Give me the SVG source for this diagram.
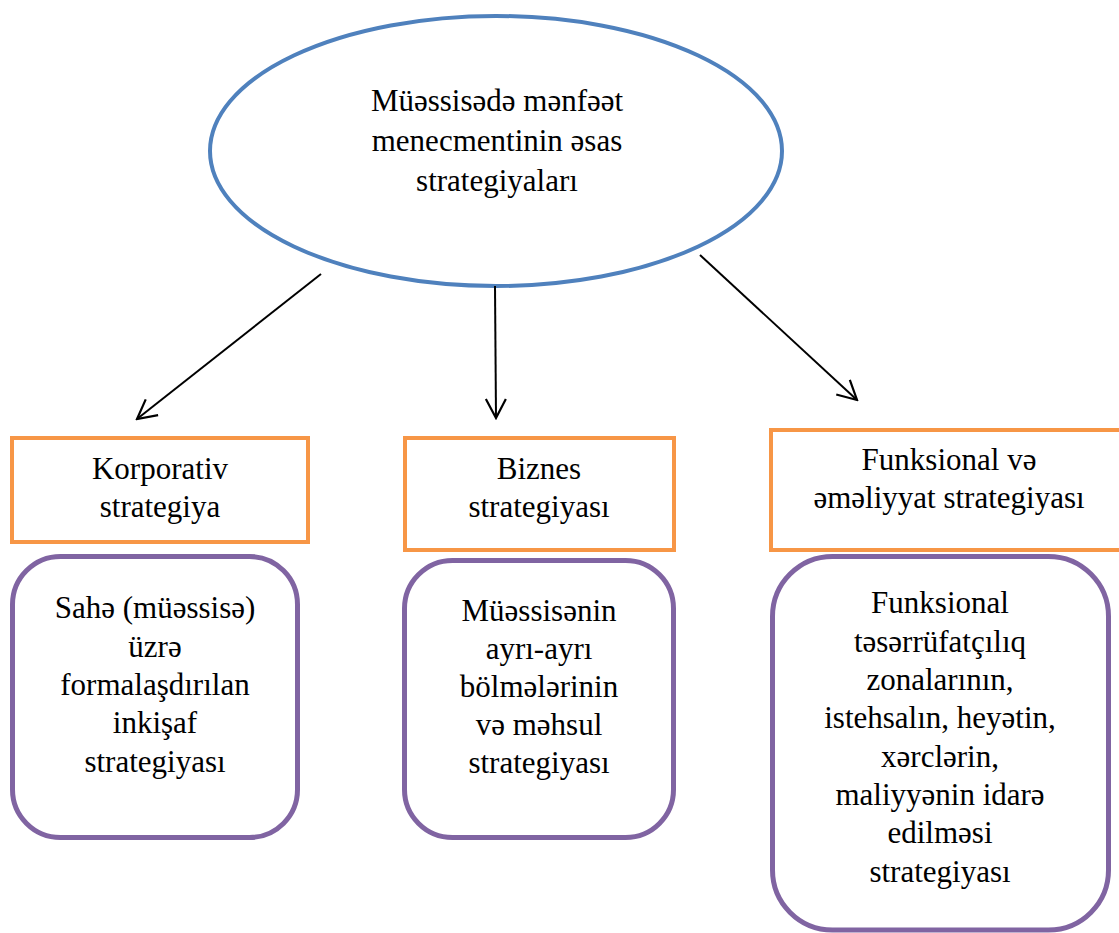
<svg xmlns="http://www.w3.org/2000/svg" width="1119" height="933" viewBox="0 0 1119 933">
<style>
.t{font-family:"Liberation Serif","Times New Roman",serif;font-size:31px;fill:#000;text-anchor:middle}
.ell{fill:#fff;stroke:#4F81BD;stroke-width:4}
.ob{fill:#fff;stroke:#F79646;stroke-width:4}
.pb{fill:#fff;stroke:#8064A2;stroke-width:5}
.c{stroke:#000;stroke-width:2;fill:none;marker-end:url(#ah)}
</style>
<defs>
<marker id="ah" markerUnits="userSpaceOnUse" viewBox="-22 -12 24 24" refX="0" refY="0" markerWidth="24" markerHeight="24" orient="auto">
<path d="M-19,-10 L0,0 L-19,10" fill="none" stroke="#000" stroke-width="2.2"/>
</marker>
</defs>
<rect width="1119" height="933" fill="#fff"/>
<g id="root">
<ellipse class="ell" cx="496" cy="151" rx="286" ry="135"/>
<text class="t" x="497" y="111">Müəssisədə mənfəət</text>
<text class="t" x="497" y="151">menecmentinin əsas</text>
<text class="t" x="497" y="191">strategiyaları</text>
</g>
<g id="connectors">
<line class="c" x1="321" y1="274" x2="137" y2="419"/>
<line class="c" x1="495" y1="286" x2="496" y2="418"/>
<line class="c" x1="700" y1="255" x2="857" y2="400"/>
</g>
<g id="korporativ">
<rect class="ob" x="12" y="438" width="296" height="104"/>
<text class="t" x="160" y="479">Korporativ</text>
<text class="t" x="160" y="517">strategiya</text>
</g>
<g id="biznes">
<rect class="ob" x="405" y="438" width="269" height="112"/>
<text class="t" x="539" y="479">Biznes</text>
<text class="t" x="539" y="517">strategiyası</text>
</g>
<g id="funksional">
<rect class="ob" x="771" y="430" width="352" height="120"/>
<text class="t" x="949" y="470">Funksional və</text>
<text class="t" x="949" y="508">əməliyyat strategiyası</text>
</g>
<g id="sahe">
<rect class="pb" x="12.5" y="556.5" width="285" height="281" rx="48"/>
<text class="t" x="155" y="618">Sahə (müəssisə)</text>
<text class="t" x="155" y="657">üzrə</text>
<text class="t" x="155" y="695">formalaşdırılan</text>
<text class="t" x="155" y="733">inkişaf</text>
<text class="t" x="155" y="772">strategiyası</text>
</g>
<g id="bolme">
<rect class="pb" x="404.5" y="560.5" width="269" height="277" rx="48"/>
<text class="t" x="539" y="621">Müəssisənin</text>
<text class="t" x="539" y="659">ayrı-ayrı</text>
<text class="t" x="539" y="697">bölmələrinin</text>
<text class="t" x="539" y="735">və məhsul</text>
<text class="t" x="539" y="773">strategiyası</text>
</g>
<g id="funksional-detal">
<rect class="pb" x="772.5" y="556.5" width="336" height="373.5" rx="60"/>
<text class="t" x="940" y="613">Funksional</text>
<text class="t" x="940" y="652">təsərrüfatçılıq</text>
<text class="t" x="940" y="690">zonalarının,</text>
<text class="t" x="940" y="728">istehsalın, heyətin,</text>
<text class="t" x="940" y="767">xərclərin,</text>
<text class="t" x="940" y="805">maliyyənin idarə</text>
<text class="t" x="940" y="843">edilməsi</text>
<text class="t" x="940" y="882">strategiyası</text>
</g>
</svg>
